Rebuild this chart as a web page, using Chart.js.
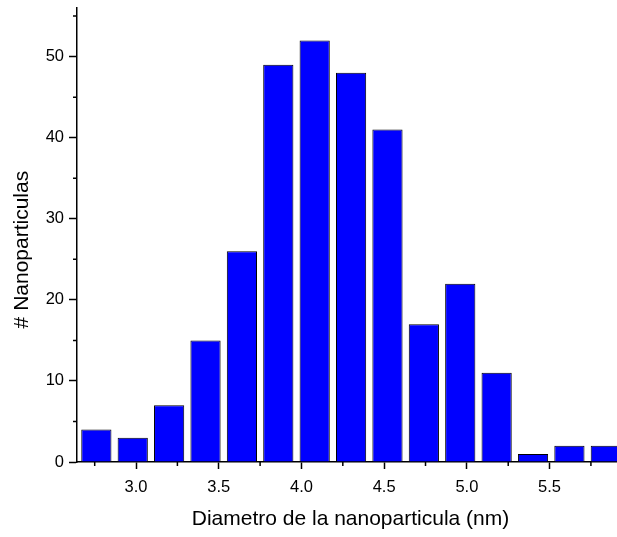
<!DOCTYPE html>
<html>
<head>
<meta charset="utf-8">
<script src="https://cdn.jsdelivr.net/npm/chart.js@4.4.0/dist/chart.umd.min.js"></script>
<style>
  html, body { margin: 0; padding: 0; background: #fff; overflow: hidden; }
  #wrap { width: 624px; height: 537px; }
</style>
</head>
<body>
<div id="wrap"><canvas id="chart"></canvas></div>
<script>
// histogram bins (centre of each bin, nm) and counts
const binCenters = [2.76, 2.98, 3.20, 3.42, 3.64, 3.86, 4.08, 4.30, 4.52, 4.74, 4.96, 5.18, 5.40, 5.62, 5.84];
const counts = [4, 3, 7, 15, 26, 49, 52, 48, 41, 17, 22, 11, 1, 2, 2];
const xTicks = [2.75, 3.0, 3.25, 3.5, 3.75, 4.0, 4.25, 4.5, 4.75, 5.0, 5.25, 5.5, 5.75];
const yTicks = [0, 5, 10, 15, 20, 25, 30, 35, 40, 45, 50, 55];

const isMajorX = v => Math.abs(v * 2 - Math.round(v * 2)) < 1e-6;
const isMajorY = v => v % 10 === 0;

// short minor ticks, drawn off the library's scales
const minorTicks = {
  id: 'minorTicks',
  afterDraw(chart) {
    const ctx = chart.ctx;
    const x = chart.scales.x, y = chart.scales.y;
    ctx.save();
    ctx.strokeStyle = '#000';
    ctx.lineWidth = 1.5;
    ctx.beginPath();
    xTicks.filter(v => !isMajorX(v)).forEach(v => {
      const px = x.getPixelForValue(v);
      ctx.moveTo(px, x.top);
      ctx.lineTo(px, x.top + 4);
    });
    yTicks.filter(v => !isMajorY(v)).forEach(v => {
      const py = y.getPixelForValue(v);
      ctx.moveTo(y.right, py);
      ctx.lineTo(y.right - 4, py);
    });
    ctx.stroke();
    ctx.restore();
  }
};

const ctx = document.getElementById('chart');
new Chart(ctx, {
  type: 'bar',
  data: {
    datasets: [{
      data: binCenters.map((c, i) => ({ x: c, y: counts[i] })),
      backgroundColor: '#0000ff',
      borderColor: '#000',
      borderWidth: 1,
      barPercentage: 0.83,
      categoryPercentage: 1.0
    }]
  },
  options: {
    responsive: true,
    maintainAspectRatio: false,
    animation: false,
    layout: { padding: { top: 8, left: 0, right: 0, bottom: 0 } },
    plugins: { legend: { display: false }, tooltip: { enabled: false } },
    scales: {
      x: {
        type: 'linear',
        offset: false,
        min: 2.643,
        max: 5.95,
        afterBuildTicks: s => { s.ticks = xTicks.map(v => ({ value: v })); },
        afterFit: s => { s.height = 75; s.paddingLeft = 0; s.paddingRight = 0; },
        ticks: {
          autoSkip: false,
          maxRotation: 0,
          padding: 9,
          color: '#000',
          font: { family: 'Liberation Sans', size: 16.5 },
          callback: v => isMajorX(v) ? v.toFixed(1) : ''
        },
        grid: {
          drawOnChartArea: false,
          offset: false,
          tickLength: 7,
          tickWidth: 1.5,
          tickColor: c => (c.tick && isMajorX(c.tick.value)) ? '#000' : 'rgba(0,0,0,0)'
        },
        border: { color: '#000', width: 1.5 },
        title: {
          display: true,
          text: 'Diametro de la nanoparticula (nm)',
          color: '#000',
          font: { family: 'Liberation Sans', size: 21 },
          padding: { top: 0, bottom: 5 }
        }
      },
      y: {
        min: 0,
        max: 56,
        afterBuildTicks: s => { s.ticks = yTicks.map(v => ({ value: v })); },
        afterFit: s => { s.width = 77; s.paddingTop = 0; s.paddingBottom = 0; },
        ticks: {
          padding: 5,
          color: '#000',
          font: { family: 'Liberation Sans', size: 16.5 },
          callback: v => isMajorY(v) ? String(v) : ''
        },
        grid: {
          drawOnChartArea: false,
          tickLength: 8,
          tickWidth: 1.5,
          tickColor: c => (c.tick && isMajorY(c.tick.value)) ? '#000' : 'rgba(0,0,0,0)'
        },
        border: { color: '#000', width: 1.5 },
        title: {
          display: true,
          // trailing spaces push the label a little below the axis middle, as in the original
          text: '# Nanoparticulas     ',
          color: '#000',
          font: { family: 'Liberation Sans', size: 21 },
          padding: { top: 10, bottom: 0 }
        }
      }
    }
  },
  plugins: [minorTicks]
});
</script>
</body>
</html>
